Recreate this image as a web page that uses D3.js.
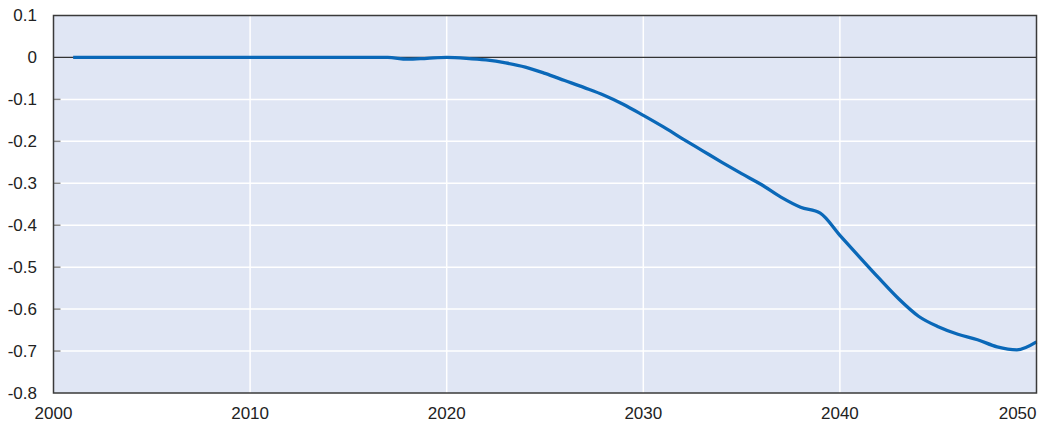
<!DOCTYPE html>
<html><head><meta charset="utf-8">
<script src="https://cdn.jsdelivr.net/npm/d3@7"></script>
<style>
html,body{margin:0;padding:0;background:#fff;}
svg{display:block;}
text{font-family:"Liberation Sans Narrow","Arial Narrow","Liberation Sans",Arial,sans-serif;font-size:17px;fill:#222;}
</style></head>
<body><svg id="c" width="1043" height="427"></svg>
<script>
const years = d3.range(2001, 2051);
const values = [
 0,0,0,0,0,0,0,0,0,0,
 0,0,0,0,0,0,0,-0.004,-0.002,0.000,
 -0.002,-0.006,-0.013,-0.023,-0.038,-0.055,-0.072,-0.090,-0.112,-0.138,
 -0.165,-0.194,-0.222,-0.250,-0.277,-0.303,-0.333,-0.357,-0.371,-0.424,
 -0.476,-0.527,-0.576,-0.617,-0.642,-0.660,-0.673,-0.690,-0.697,-0.678
];
const xTicks = [2000,2010,2020,2030,2040,2050];
const yTicks = [0.1,0,-0.1,-0.2,-0.3,-0.4,-0.5,-0.6,-0.7,-0.8];

const L=53.5,R=1036.5,T=15.5,B=393;
const svg=d3.select("#c");
const x=d3.scaleLinear().domain([2000,2050]).range([L,R]);
const y=d3.scaleLinear().domain([-0.8,0.1]).range([B,T]);

svg.append("rect").attr("x",L).attr("y",T).attr("width",R-L).attr("height",B-T).attr("fill","#e0e6f4");

const inner=yTicks.filter(v=>v!==0.1&&v!==-0.8&&v!==0);
svg.append("g").selectAll("line").data(inner).join("line")
 .attr("x1",L).attr("x2",R).attr("y1",d=>y(d)).attr("y2",d=>y(d)).attr("stroke","#fff").attr("stroke-width",1.5);
svg.append("g").selectAll("line").data(xTicks.filter(v=>v!==2000&&v!==2050)).join("line")
 .attr("y1",T).attr("y2",B).attr("x1",d=>x(d)).attr("x2",d=>x(d)).attr("stroke","#fff").attr("stroke-width",1.5);
svg.append("g").selectAll("line").data(inner).join("line")
 .attr("x1",L).attr("x2",L+7).attr("y1",d=>y(d)).attr("y2",d=>y(d)).attr("stroke","#888").attr("stroke-width",1.5);

svg.append("line").attr("x1",L).attr("x2",R).attr("y1",y(0)).attr("y2",y(0)).attr("stroke","#333").attr("stroke-width",1.2);

const line=d3.line().x((d,i)=>x(years[i])).y(d=>y(d)).curve(d3.curveMonotoneX);
svg.append("path").datum(values).attr("d",line).attr("fill","none").attr("stroke","#0a68b8").attr("stroke-width",3.3);

svg.append("rect").attr("x",L).attr("y",T).attr("width",R-L).attr("height",B-T).attr("fill","none").attr("stroke","#3a3a3a").attr("stroke-width",1.5);

svg.append("g").selectAll("text").data(yTicks).join("text")
 .attr("x",37).attr("y",d=>y(d)).attr("dy","0.35em").attr("text-anchor","end").text(d=>String(Math.round(d*10)/10));
svg.append("g").selectAll("text").data(xTicks).join("text")
 .attr("x",d=>d===2050?R:x(d)).attr("y",419).attr("text-anchor",d=>d===2050?"end":"middle").text(d=>d);
</script></body></html>
